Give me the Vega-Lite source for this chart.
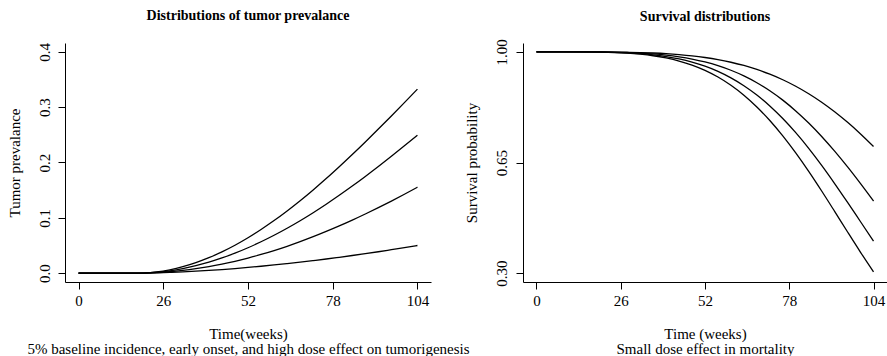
{
  "$schema": "https://vega.github.io/schema/vega-lite/v6.json",
  "background": "white",
  "padding": {"left": 7, "top": 9, "right": 0, "bottom": 0},
  "autosize": {"type": "pad"},
  "spacing": 92,
  "bounds": "flush",
  "config": {
    "view": {"stroke": null},
    "font": "Liberation Serif",
    "axis": {"grid": false, "domainColor": "#000", "tickColor": "#000", "labelColor": "#000", "titleColor": "#000", "labelFont": "Liberation Serif", "titleFont": "Liberation Serif", "labelFontSize": 15, "titleFontSize": 15, "titleFontWeight": "normal", "tickSize": 7, "domainWidth": 1, "tickWidth": 1, "labelOverlap": false, "labelFlush": false},
    "title": {"font": "Liberation Serif", "fontSize": 14, "fontWeight": "bold", "color": "#000", "frame": "group", "anchor": "middle", "baseline": "alphabetic"}
  },
  "datasets": {
    "tumor": [
      {"w":0,"c":"A","v":0},{"w":8,"c":"A","v":0},{"w":16,"c":"A","v":0},{"w":18,"c":"A","v":0},{"w":20,"c":"A","v":0.0003},{"w":24,"c":"A","v":0.0022},{"w":28,"c":"A","v":0.0061},{"w":32,"c":"A","v":0.0117},{"w":36,"c":"A","v":0.019},{"w":40,"c":"A","v":0.0279},{"w":44,"c":"A","v":0.0385},{"w":48,"c":"A","v":0.0505},{"w":52,"c":"A","v":0.064},{"w":56,"c":"A","v":0.079},{"w":60,"c":"A","v":0.0951},{"w":64,"c":"A","v":0.1125},{"w":68,"c":"A","v":0.131},{"w":72,"c":"A","v":0.1505},{"w":76,"c":"A","v":0.171},{"w":80,"c":"A","v":0.1924},{"w":84,"c":"A","v":0.2144},{"w":88,"c":"A","v":0.2371},{"w":92,"c":"A","v":0.2604},{"w":96,"c":"A","v":0.2841},{"w":100,"c":"A","v":0.3082},{"w":104,"c":"A","v":0.3326},
      {"w":0,"c":"B","v":0},{"w":8,"c":"B","v":0},{"w":16,"c":"B","v":0},{"w":18,"c":"B","v":0},{"w":20,"c":"B","v":0.0002},{"w":24,"c":"B","v":0.0016},{"w":28,"c":"B","v":0.0043},{"w":32,"c":"B","v":0.0083},{"w":36,"c":"B","v":0.0135},{"w":40,"c":"B","v":0.0199},{"w":44,"c":"B","v":0.0275},{"w":48,"c":"B","v":0.0361},{"w":52,"c":"B","v":0.0459},{"w":56,"c":"B","v":0.0567},{"w":60,"c":"B","v":0.0685},{"w":64,"c":"B","v":0.0812},{"w":68,"c":"B","v":0.0948},{"w":72,"c":"B","v":0.1093},{"w":76,"c":"B","v":0.1246},{"w":80,"c":"B","v":0.1407},{"w":84,"c":"B","v":0.1574},{"w":88,"c":"B","v":0.1748},{"w":92,"c":"B","v":0.1927},{"w":96,"c":"B","v":0.2112},{"w":100,"c":"B","v":0.2301},{"w":104,"c":"B","v":0.2494},
      {"w":0,"c":"C","v":0},{"w":8,"c":"C","v":0},{"w":16,"c":"C","v":0},{"w":18,"c":"C","v":0},{"w":20,"c":"C","v":0.0001},{"w":24,"c":"C","v":0.0009},{"w":28,"c":"C","v":0.0025},{"w":32,"c":"C","v":0.0049},{"w":36,"c":"C","v":0.008},{"w":40,"c":"C","v":0.0118},{"w":44,"c":"C","v":0.0163},{"w":48,"c":"C","v":0.0214},{"w":52,"c":"C","v":0.0273},{"w":56,"c":"C","v":0.0338},{"w":60,"c":"C","v":0.0409},{"w":64,"c":"C","v":0.0486},{"w":68,"c":"C","v":0.057},{"w":72,"c":"C","v":0.0659},{"w":76,"c":"C","v":0.0754},{"w":80,"c":"C","v":0.0854},{"w":84,"c":"C","v":0.0959},{"w":88,"c":"C","v":0.1069},{"w":92,"c":"C","v":0.1184},{"w":96,"c":"C","v":0.1303},{"w":100,"c":"C","v":0.1426},{"w":104,"c":"C","v":0.1554},
      {"w":0,"c":"D","v":0},{"w":8,"c":"D","v":0},{"w":16,"c":"D","v":0},{"w":18,"c":"D","v":0},{"w":20,"c":"D","v":0.0001},{"w":24,"c":"D","v":0.0005},{"w":28,"c":"D","v":0.0013},{"w":32,"c":"D","v":0.0023},{"w":36,"c":"D","v":0.0035},{"w":40,"c":"D","v":0.0049},{"w":44,"c":"D","v":0.0065},{"w":48,"c":"D","v":0.0083},{"w":52,"c":"D","v":0.0103},{"w":56,"c":"D","v":0.0125},{"w":60,"c":"D","v":0.0148},{"w":64,"c":"D","v":0.0173},{"w":68,"c":"D","v":0.0199},{"w":72,"c":"D","v":0.0227},{"w":76,"c":"D","v":0.0256},{"w":80,"c":"D","v":0.0287},{"w":84,"c":"D","v":0.0319},{"w":88,"c":"D","v":0.0352},{"w":92,"c":"D","v":0.0387},{"w":96,"c":"D","v":0.0424},{"w":100,"c":"D","v":0.0461},{"w":104,"c":"D","v":0.05}
    ],
    "surv": [
      {"w":0,"c":"S1","v":1},{"w":8,"c":"S1","v":1},{"w":16,"c":"S1","v":0.9999},{"w":20,"c":"S1","v":0.9997},{"w":24,"c":"S1","v":0.9994},{"w":28,"c":"S1","v":0.9987},{"w":32,"c":"S1","v":0.9978},{"w":36,"c":"S1","v":0.9963},{"w":40,"c":"S1","v":0.9942},{"w":44,"c":"S1","v":0.9912},{"w":48,"c":"S1","v":0.9873},{"w":52,"c":"S1","v":0.9821},{"w":56,"c":"S1","v":0.9755},{"w":60,"c":"S1","v":0.9671},{"w":64,"c":"S1","v":0.9569},{"w":68,"c":"S1","v":0.9444},{"w":72,"c":"S1","v":0.9294},{"w":76,"c":"S1","v":0.9118},{"w":80,"c":"S1","v":0.8913},{"w":84,"c":"S1","v":0.8676},{"w":88,"c":"S1","v":0.8408},{"w":92,"c":"S1","v":0.8106},{"w":96,"c":"S1","v":0.7771},{"w":100,"c":"S1","v":0.7404},{"w":104,"c":"S1","v":0.7007},
      {"w":0,"c":"S2","v":1},{"w":8,"c":"S2","v":1},{"w":16,"c":"S2","v":0.9998},{"w":20,"c":"S2","v":0.9995},{"w":24,"c":"S2","v":0.9988},{"w":28,"c":"S2","v":0.9977},{"w":32,"c":"S2","v":0.996},{"w":36,"c":"S2","v":0.9934},{"w":40,"c":"S2","v":0.9896},{"w":44,"c":"S2","v":0.9843},{"w":48,"c":"S2","v":0.9773},{"w":52,"c":"S2","v":0.9681},{"w":56,"c":"S2","v":0.9564},{"w":60,"c":"S2","v":0.9418},{"w":64,"c":"S2","v":0.9239},{"w":68,"c":"S2","v":0.9023},{"w":72,"c":"S2","v":0.8769},{"w":76,"c":"S2","v":0.8473},{"w":80,"c":"S2","v":0.8132},{"w":84,"c":"S2","v":0.775},{"w":88,"c":"S2","v":0.7324},{"w":92,"c":"S2","v":0.6859},{"w":96,"c":"S2","v":0.6359},{"w":100,"c":"S2","v":0.583},{"w":104,"c":"S2","v":0.528},
      {"w":0,"c":"S3","v":1},{"w":8,"c":"S3","v":1},{"w":16,"c":"S3","v":0.9997},{"w":20,"c":"S3","v":0.9992},{"w":24,"c":"S3","v":0.9983},{"w":28,"c":"S3","v":0.9968},{"w":32,"c":"S3","v":0.9943},{"w":36,"c":"S3","v":0.9905},{"w":40,"c":"S3","v":0.9851},{"w":44,"c":"S3","v":0.9777},{"w":48,"c":"S3","v":0.9677},{"w":52,"c":"S3","v":0.9547},{"w":56,"c":"S3","v":0.9383},{"w":60,"c":"S3","v":0.9178},{"w":64,"c":"S3","v":0.893},{"w":68,"c":"S3","v":0.8635},{"w":72,"c":"S3","v":0.8289},{"w":76,"c":"S3","v":0.7891},{"w":80,"c":"S3","v":0.7443},{"w":84,"c":"S3","v":0.6948},{"w":88,"c":"S3","v":0.6409},{"w":92,"c":"S3","v":0.5835},{"w":96,"c":"S3","v":0.5237},{"w":100,"c":"S3","v":0.4626},{"w":104,"c":"S3","v":0.4015},
      {"w":0,"c":"S4","v":1},{"w":8,"c":"S4","v":1},{"w":16,"c":"S4","v":0.9996},{"w":20,"c":"S4","v":0.999},{"w":24,"c":"S4","v":0.9978},{"w":28,"c":"S4","v":0.9958},{"w":32,"c":"S4","v":0.9925},{"w":36,"c":"S4","v":0.9877},{"w":40,"c":"S4","v":0.9806},{"w":44,"c":"S4","v":0.971},{"w":48,"c":"S4","v":0.9581},{"w":52,"c":"S4","v":0.9414},{"w":56,"c":"S4","v":0.9203},{"w":60,"c":"S4","v":0.8942},{"w":64,"c":"S4","v":0.8628},{"w":68,"c":"S4","v":0.8257},{"w":72,"c":"S4","v":0.7829},{"w":76,"c":"S4","v":0.7343},{"w":80,"c":"S4","v":0.6804},{"w":84,"c":"S4","v":0.6219},{"w":88,"c":"S4","v":0.5598},{"w":92,"c":"S4","v":0.4954},{"w":96,"c":"S4","v":0.4302},{"w":100,"c":"S4","v":0.366},{"w":104,"c":"S4","v":0.3042}
    ]
  },
  "hconcat": [
    {
      "width": 366,
      "height": 239,
      "title": {"text": "Distributions of tumor prevalance", "offset": 19},
      "data": {"name": "tumor"},
      "mark": {"type": "line", "color": "#000", "strokeWidth": 1.3, "interpolate": "monotone"},
      "encoding": {
        "x": {"field": "w", "type": "quantitative", "scale": {"domain": [-4.16, 108.16], "nice": false, "zero": false},
          "axis": {"values": [0, 26, 52, 78, 104], "labelPadding": 4,
            "title": ["Time(weeks)", "5% baseline incidence, early onset, and high dose effect on tumorigenesis"],
            "titleY": 56.5, "titleBaseline": "alphabetic", "titleLineHeight": 14.5}},
        "y": {"field": "v", "type": "quantitative", "scale": {"domain": [-0.016, 0.416], "nice": false, "zero": false},
          "axis": {"values": [0, 0.1, 0.2, 0.3, 0.4], "format": ".1f", "labelAngle": 270, "labelAlign": "center", "labelBaseline": "alphabetic", "labelPadding": 9,
            "title": "Tumor prevalance", "titleAngle": 270, "titleBaseline": "alphabetic", "titleX": -45.5, "titleY": 119.5}},
        "detail": {"field": "c", "type": "nominal"}
      }
    },
    {
      "width": 364,
      "height": 239,
      "title": {"text": "Survival distributions", "offset": 15},
      "data": {"name": "surv"},
      "mark": {"type": "line", "color": "#000", "strokeWidth": 1.3, "interpolate": "monotone"},
      "encoding": {
        "x": {"field": "w", "type": "quantitative", "scale": {"domain": [-4.16, 108.16], "nice": false, "zero": false},
          "axis": {"values": [0, 26, 52, 78, 104], "labelPadding": 4,
            "title": ["Time (weeks)", "Small dose effect in mortality"],
            "titleY": 56.5, "titleBaseline": "alphabetic", "titleLineHeight": 14.5}},
        "y": {"field": "v", "type": "quantitative", "scale": {"domain": [0.272, 1.028], "nice": false, "zero": false},
          "axis": {"values": [0.3, 0.65, 1.0], "format": ".2f", "labelAngle": 270, "labelAlign": "center", "labelBaseline": "alphabetic", "labelPadding": 9.5,
            "title": "Survival probability", "titleAngle": 270, "titleBaseline": "alphabetic", "titleX": -46.5, "titleY": 119.5}},
        "detail": {"field": "c", "type": "nominal"}
      }
    }
  ]
}
